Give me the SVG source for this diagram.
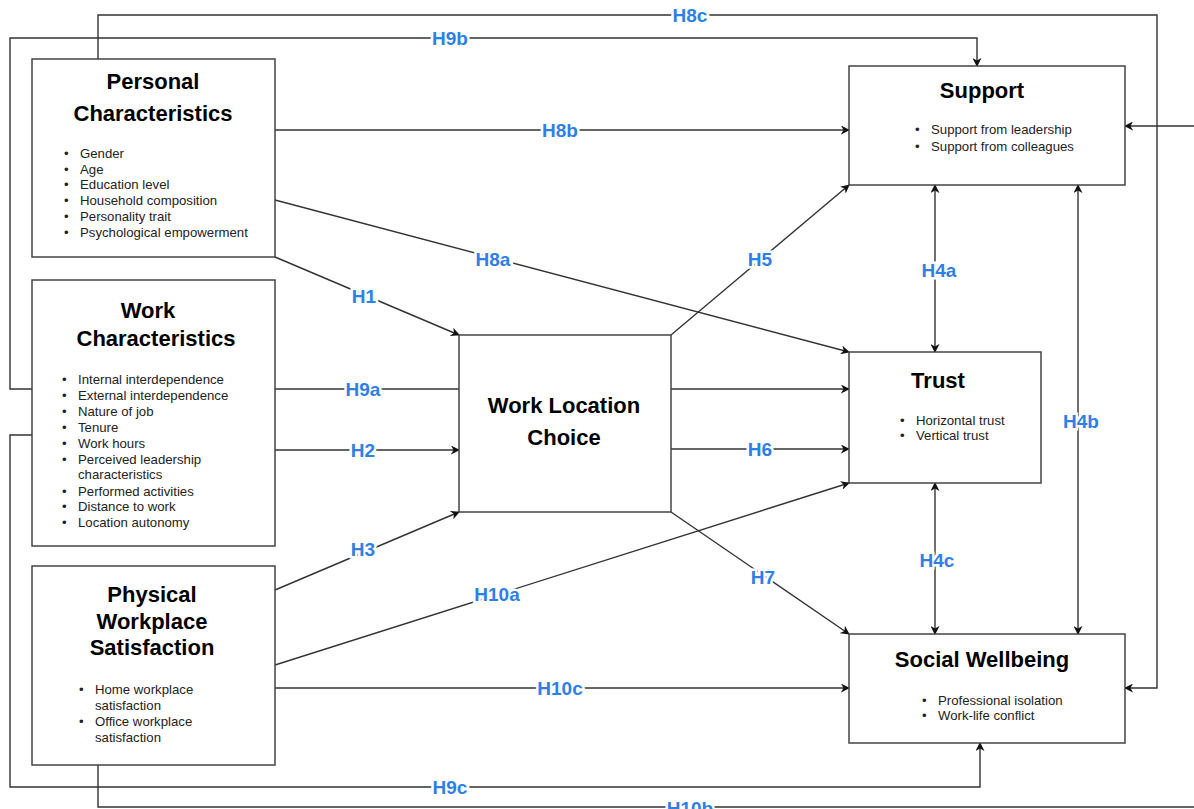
<svg xmlns="http://www.w3.org/2000/svg" width="1194" height="809" viewBox="0 0 1194 809">
<defs>
<marker id="arr" viewBox="0 0 10 10" refX="9" refY="5" markerWidth="9" markerHeight="9" markerUnits="userSpaceOnUse" orient="auto-start-reverse">
<path d="M0,0 L10,5 L0,10 L3,5 Z" fill="#111"/>
</marker>
<style>
.box{fill:#fff;stroke:#444;stroke-width:1.5}
.ln{fill:none;stroke:#333;stroke-width:1.4}
.t{font-family:"Liberation Sans",Arial,sans-serif;font-weight:bold;font-size:22px;fill:#000;text-anchor:middle}
.b{font-family:"Liberation Sans",Arial,sans-serif;font-size:13.2px;fill:#222}
.lb{font-family:"Liberation Sans",Arial,sans-serif;font-weight:bold;font-size:19px;fill:#2f7fe6;text-anchor:middle;dominant-baseline:central;stroke:#fff;stroke-width:5px;paint-order:stroke}
</style>
</defs>
<rect width="1194" height="809" fill="#fff"/>

<g id="connectors">
<path class="ln" d="M98,59 V15 H1157 V688 H1125" marker-end="url(#arr)"/>
<path class="ln" d="M32,389 H10 V38 H977 V66" marker-end="url(#arr)"/>
<path class="ln" d="M275,130 H849" marker-end="url(#arr)"/>
<path class="ln" d="M98,765 V807 H1194"/>
<path class="ln" d="M1194,126 H1125" marker-end="url(#arr)"/>
<path class="ln" d="M32,435 H10 V787 H980 V743" marker-end="url(#arr)"/>
<path class="ln" d="M275,257 L459,335" marker-end="url(#arr)"/>
<path class="ln" d="M275,200 L849,352" marker-end="url(#arr)"/>
<path class="ln" d="M275,389 H459"/>
<path class="ln" d="M275,450 H459" marker-end="url(#arr)"/>
<path class="ln" d="M275,590 L459,512" marker-end="url(#arr)"/>
<path class="ln" d="M275,665 L849,483" marker-end="url(#arr)"/>
<path class="ln" d="M275,688 H849" marker-end="url(#arr)"/>
<path class="ln" d="M671,335 L849,185" marker-end="url(#arr)"/>
<path class="ln" d="M671,389 H849" marker-end="url(#arr)"/>
<path class="ln" d="M671,449 H849" marker-end="url(#arr)"/>
<path class="ln" d="M671,512 L849,634" marker-end="url(#arr)"/>
<path class="ln" d="M935,185 V352" marker-start="url(#arr)" marker-end="url(#arr)"/>
<path class="ln" d="M935,483 V634" marker-start="url(#arr)" marker-end="url(#arr)"/>
<path class="ln" d="M1078,185 V634" marker-start="url(#arr)" marker-end="url(#arr)"/>

<text class="lb" x="690" y="15">H8c</text>
<text class="lb" x="450" y="38">H9b</text>
<text class="lb" x="560" y="130">H8b</text>
<text class="lb" x="690" y="808">H10b</text>
<text class="lb" x="450" y="787">H9c</text>
<text class="lb" x="364" y="296">H1</text>
<text class="lb" x="493" y="259">H8a</text>
<text class="lb" x="363" y="389">H9a</text>
<text class="lb" x="363" y="450">H2</text>
<text class="lb" x="363" y="549">H3</text>
<text class="lb" x="497" y="594">H10a</text>
<text class="lb" x="560" y="688">H10c</text>
<text class="lb" x="760" y="259">H5</text>
<text class="lb" x="760" y="449">H6</text>
<text class="lb" x="763" y="577">H7</text>
<text class="lb" x="939" y="270">H4a</text>
<text class="lb" x="937" y="560">H4c</text>
<text class="lb" x="1081" y="421">H4b</text>
</g>

<g id="personal">
<rect class="box" x="32" y="59" width="243" height="198"/>
<text class="t" x="153" y="89">Personal</text>
<text class="t" x="153" y="121">Characteristics</text>
<g class="b">
<text x="64" y="158">•</text><text x="80" y="158">Gender</text>
<text x="64" y="174">•</text><text x="80" y="174">Age</text>
<text x="64" y="189">•</text><text x="80" y="189">Education level</text>
<text x="64" y="205">•</text><text x="80" y="205">Household composition</text>
<text x="64" y="221">•</text><text x="80" y="221">Personality trait</text>
<text x="64" y="237">•</text><text x="80" y="237">Psychological empowerment</text>
</g>
</g>

<g id="work">
<rect class="box" x="32" y="280" width="243" height="266"/>
<text class="t" x="148" y="318">Work</text>
<text class="t" x="156" y="346">Characteristics</text>
<g class="b">
<text x="62" y="384">•</text><text x="78" y="384">Internal interdependence</text>
<text x="62" y="400">•</text><text x="78" y="400">External interdependence</text>
<text x="62" y="416">•</text><text x="78" y="416">Nature of job</text>
<text x="62" y="432">•</text><text x="78" y="432">Tenure</text>
<text x="62" y="448">•</text><text x="78" y="448">Work hours</text>
<text x="62" y="464">•</text><text x="78" y="464">Perceived leadership</text>
<text x="78" y="479">characteristics</text>
<text x="62" y="496">•</text><text x="78" y="496">Performed activities</text>
<text x="62" y="511">•</text><text x="78" y="511">Distance to work</text>
<text x="62" y="527">•</text><text x="78" y="527">Location autonomy</text>
</g>
</g>

<g id="physical">
<rect class="box" x="32" y="566" width="243" height="199"/>
<text class="t" x="152" y="602">Physical</text>
<text class="t" x="152" y="629">Workplace</text>
<text class="t" x="152" y="655">Satisfaction</text>
<g class="b">
<text x="79" y="694">•</text><text x="95" y="694">Home workplace</text>
<text x="95" y="710">satisfaction</text>
<text x="79" y="726">•</text><text x="95" y="726">Office workplace</text>
<text x="95" y="742">satisfaction</text>
</g>
</g>

<g id="wlc">
<rect class="box" x="459" y="335" width="212" height="177"/>
<text class="t" x="564" y="413">Work Location</text>
<text class="t" x="564" y="445">Choice</text>
</g>

<g id="support">
<rect class="box" x="849" y="66" width="276" height="119"/>
<text class="t" x="982" y="98">Support</text>
<g class="b">
<text x="915" y="134">•</text><text x="931" y="134">Support from leadership</text>
<text x="915" y="151">•</text><text x="931" y="151">Support from colleagues</text>
</g>
</g>

<g id="trust">
<rect class="box" x="849" y="352" width="192" height="131"/>
<text class="t" x="938" y="388">Trust</text>
<g class="b">
<text x="900" y="425">•</text><text x="916" y="425">Horizontal trust</text>
<text x="900" y="440">•</text><text x="916" y="440">Vertical trust</text>
</g>
</g>

<g id="wellbeing">
<rect class="box" x="849" y="634" width="276" height="109"/>
<text class="t" x="982" y="667">Social Wellbeing</text>
<g class="b">
<text x="922" y="705">•</text><text x="938" y="705">Professional isolation</text>
<text x="922" y="720">•</text><text x="938" y="720">Work-life conflict</text>
</g>
</g>
</svg>
